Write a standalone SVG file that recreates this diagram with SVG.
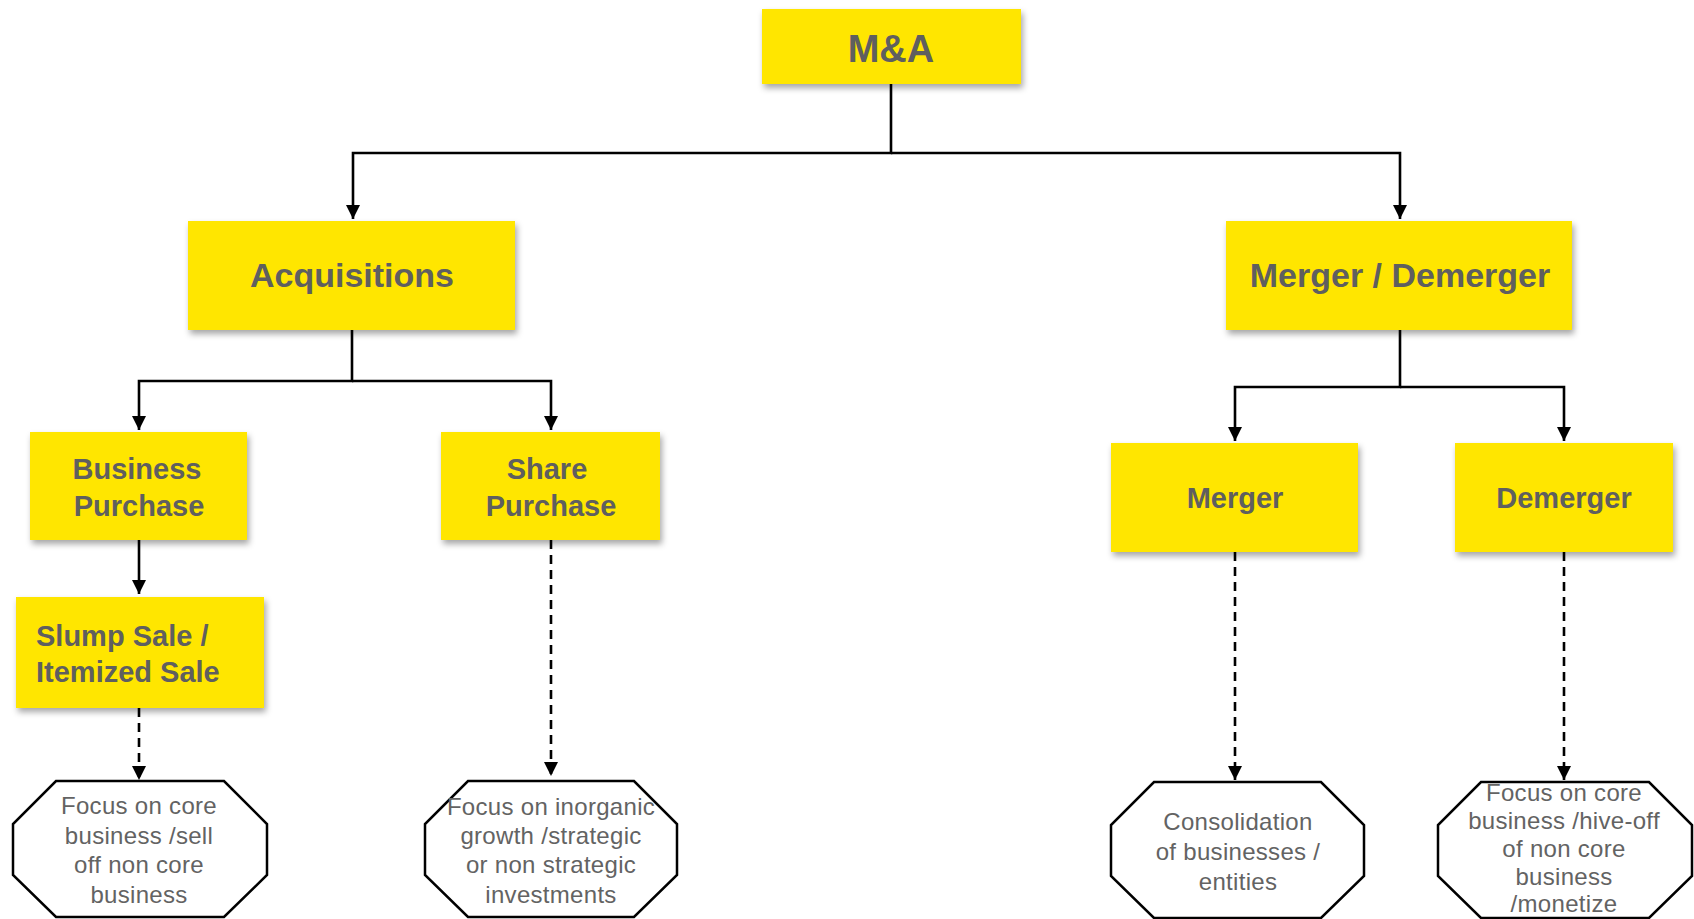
<svg xmlns="http://www.w3.org/2000/svg" width="1694" height="919" viewBox="0 0 1694 919">
<defs>
<filter id="sh" x="-10%" y="-10%" width="125%" height="135%">
<feDropShadow dx="2" dy="4" stdDeviation="3" flood-color="#000" flood-opacity="0.35"/>
</filter>
<marker id="ah" viewBox="0 0 14 14" refX="14" refY="7" markerWidth="14" markerHeight="14" markerUnits="userSpaceOnUse" orient="auto">
<path d="M0,0 L14,7 L0,14 Z" fill="#000"/>
</marker>
</defs>
<style>
.box{fill:#FFE600;filter:url(#sh)}
.oct{fill:#fff;stroke:#000;stroke-width:2.5}
.t{font-family:"Liberation Sans",Arial,sans-serif;font-weight:bold;fill:#5f5f5f;text-anchor:middle}
.o{font-family:"Liberation Sans",Arial,sans-serif;fill:#636363;text-anchor:middle;font-size:24px;letter-spacing:0.3px}
.c{fill:none;stroke:#000;stroke-width:2.6}
.d{fill:none;stroke:#000;stroke-width:2.6;stroke-dasharray:9 6}
</style>
<g id="connectors">
<path class="c" d="M891,84 V153 H353 V219" marker-end="url(#ah)"/>
<path class="c" d="M891,153 H1400 V219" marker-end="url(#ah)"/>
<path class="c" d="M352,330 V381 H139 V430" marker-end="url(#ah)"/>
<path class="c" d="M352,381 H551 V430" marker-end="url(#ah)"/>
<path class="c" d="M139,540 V594" marker-end="url(#ah)"/>
<path class="c" d="M1400,330 V387 H1235 V441" marker-end="url(#ah)"/>
<path class="c" d="M1400,387 H1564 V441" marker-end="url(#ah)"/>
<path class="d" d="M139,708 V780" marker-end="url(#ah)"/>
<path class="d" d="M551,540 V776" marker-end="url(#ah)"/>
<path class="d" d="M1235,552 V780" marker-end="url(#ah)"/>
<path class="d" d="M1564,552 V780" marker-end="url(#ah)"/>
</g>
<g id="ma">
<rect class="box" x="762" y="9" width="259" height="75"/>
<text class="t" x="891" y="62" font-size="38">M&amp;A</text>
</g>
<g id="acquisitions">
<rect class="box" x="188" y="221" width="327" height="109"/>
<text class="t" x="352" y="287" font-size="34">Acquisitions</text>
</g>
<g id="merger-demerger">
<rect class="box" x="1226" y="221" width="346" height="109"/>
<text class="t" x="1400" y="287" font-size="34">Merger / Demerger</text>
</g>
<g id="business-purchase">
<rect class="box" x="30" y="432" width="217" height="108"/>
<text class="t" x="137" y="479" font-size="29">Business</text>
<text class="t" x="139" y="516" font-size="29">Purchase</text>
</g>
<g id="share-purchase">
<rect class="box" x="441" y="432" width="219" height="108"/>
<text class="t" x="547" y="479" font-size="29">Share</text>
<text class="t" x="551" y="516" font-size="29">Purchase</text>
</g>
<g id="slump-sale">
<rect class="box" x="16" y="597" width="248" height="111"/>
<text class="t" x="36" y="646" font-size="29" style="text-anchor:start">Slump Sale /</text>
<text class="t" x="36" y="682" font-size="29" style="text-anchor:start">Itemized Sale</text>
</g>
<g id="merger">
<rect class="box" x="1111" y="443" width="247" height="109"/>
<text class="t" x="1235" y="508" font-size="29">Merger</text>
</g>
<g id="demerger">
<rect class="box" x="1455" y="443" width="218" height="109"/>
<text class="t" x="1564" y="508" font-size="29">Demerger</text>
</g>
<g id="oct-core">
<polygon class="oct" points="56,781 224,781 267,824 267,875 224,917 56,917 13,875 13,824"/>
<text class="o" x="139" y="814">Focus on core</text>
<text class="o" x="139" y="844">business /sell</text>
<text class="o" x="139" y="873">off non core</text>
<text class="o" x="139" y="903">business</text>
</g>
<g id="oct-inorganic">
<polygon class="oct" points="468,781 634,781 677,824 677,875 634,917 468,917 425,875 425,824"/>
<text class="o" x="551" y="815">Focus on inorganic</text>
<text class="o" x="551" y="844">growth /strategic</text>
<text class="o" x="551" y="873">or non strategic</text>
<text class="o" x="551" y="903">investments</text>
</g>
<g id="oct-consolidation">
<polygon class="oct" points="1154,782 1321,782 1364,825 1364,876 1321,918 1154,918 1111,876 1111,825"/>
<text class="o" x="1238" y="830">Consolidation</text>
<text class="o" x="1238" y="860">of businesses /</text>
<text class="o" x="1238" y="890">entities</text>
</g>
<g id="oct-hiveoff">
<polygon class="oct" points="1481,782 1649,782 1692,825 1692,876 1649,918 1481,918 1438,876 1438,825"/>
<text class="o" x="1564" y="801">Focus on core</text>
<text class="o" x="1564" y="829">business /hive-off</text>
<text class="o" x="1564" y="857">of non core</text>
<text class="o" x="1564" y="885">business</text>
<text class="o" x="1564" y="912">/monetize</text>
</g>
</svg>
